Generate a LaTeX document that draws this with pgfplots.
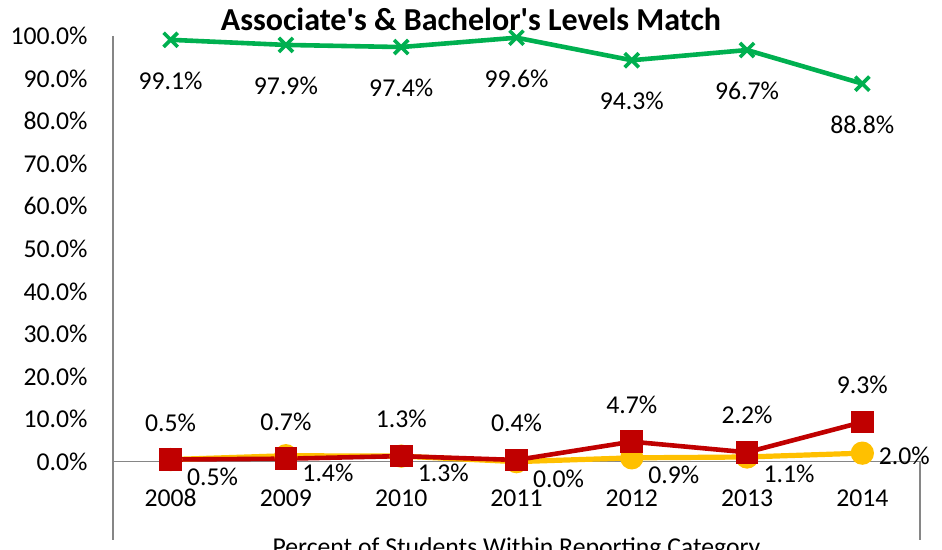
\documentclass[border=0pt]{standalone}
\usepackage{pgfplots}
\pgfplotsset{compat=1.18}
\usepackage{fontspec}
\setmainfont{Carlito}
\definecolor{xlgreen}{RGB}{0,176,80}
\definecolor{xlred}{RGB}{192,0,0}
\definecolor{xlyellow}{RGB}{255,192,0}
\definecolor{axisgray}{RGB}{134,134,134}
\newcommand\lblfont{\fontsize{12.85}{15}\selectfont}

\begin{document}
\begin{tikzpicture}
\clip (-56.5pt,-5pt) rectangle (414.5pt,270pt);
\begin{axis}[
  at={(0,0)}, anchor=south west,
  scale only axis, width=403.5pt, height=252pt,
  xmin=2007.5, xmax=2014.5, ymin=-18.4, ymax=100,
  axis line style={draw=none},
  major tick length=0pt,
  clip=false,
  /pgf/number format/assume math mode=true,
  xtick={2008,2009,2010,2011,2012,2013,2014},
  xticklabels={2008,2009,2010,2011,2012,2013,2014},
  xticklabel style={font=\lblfont, anchor=center, yshift=21pt},
  ytick={0,10,...,100},
  yticklabel={\pgfmathprintnumber[fixed,fixed zerofill,precision=1]{\tick}\%},
  yticklabel style={font=\lblfont, anchor=east, inner sep=0pt, xshift=-12.5pt},
  nodes near coords={\pgfmathprintnumber[fixed,fixed zerofill,precision=1]{\pgfplotspointmeta}\%},
  point meta=y,
]
% axis lines
\draw[axisgray, line width=0.75pt] (axis cs:2007.5,100) -- (axis cs:2007.5,-18.4);
\draw[axisgray, line width=0.75pt] (axis cs:2007.5,0) -- (axis cs:2014.5,0) -- (axis cs:2014.5,-18.4);

% yellow series
\addplot[xlyellow, line width=2.6pt, mark=*, mark size=4.5pt,
  visualization depends on={value \thisrow{dy} \as \dy},
  every node near coord/.style={font=\lblfont, text=black, anchor=center, xshift=21pt, yshift=\dy}]
  table[x=x, y=y] {
  x    y    dy
  2008 0.5  -8.5
  2009 1.4  -8.5
  2010 1.3  -8.5
  2011 0.0  -8.5
  2012 0.9  -8.5
  2013 1.1  -8.5
  2014 2.0  -1.5
  };

% red series
\addplot[xlred, line width=2.3pt, mark=square*, mark size=4.5pt,
  every node near coord/.style={font=\lblfont, text=black, anchor=center, yshift=18.5pt}]
  coordinates {
  (2008,0.5) (2009,0.7) (2010,1.3) (2011,0.4) (2012,4.7) (2013,2.2) (2014,9.3)
  };

% green series
\addplot[xlgreen, line width=2.3pt, mark=x, mark size=5pt, mark options={line width=1.8pt},
  every node near coord/.style={font=\lblfont, text=black, anchor=center, yshift=-20.5pt}]
  coordinates {
  (2008,99.1) (2009,97.9) (2010,97.4) (2011,99.6) (2012,94.3) (2013,96.7) (2014,88.8)
  };

\node[font=\bfseries\fontsize{16}{18}\selectfont] at (rel axis cs:0.4436,1.032)
  {Associate\textquotesingle s \& Bachelor\textquotesingle s Levels Match};
\node[font=\lblfont, anchor=base, yshift=-7.75pt] at (rel axis cs:0.5,0) {Percent of Students Within Reporting Category};
\end{axis}
\end{tikzpicture}
\end{document}
